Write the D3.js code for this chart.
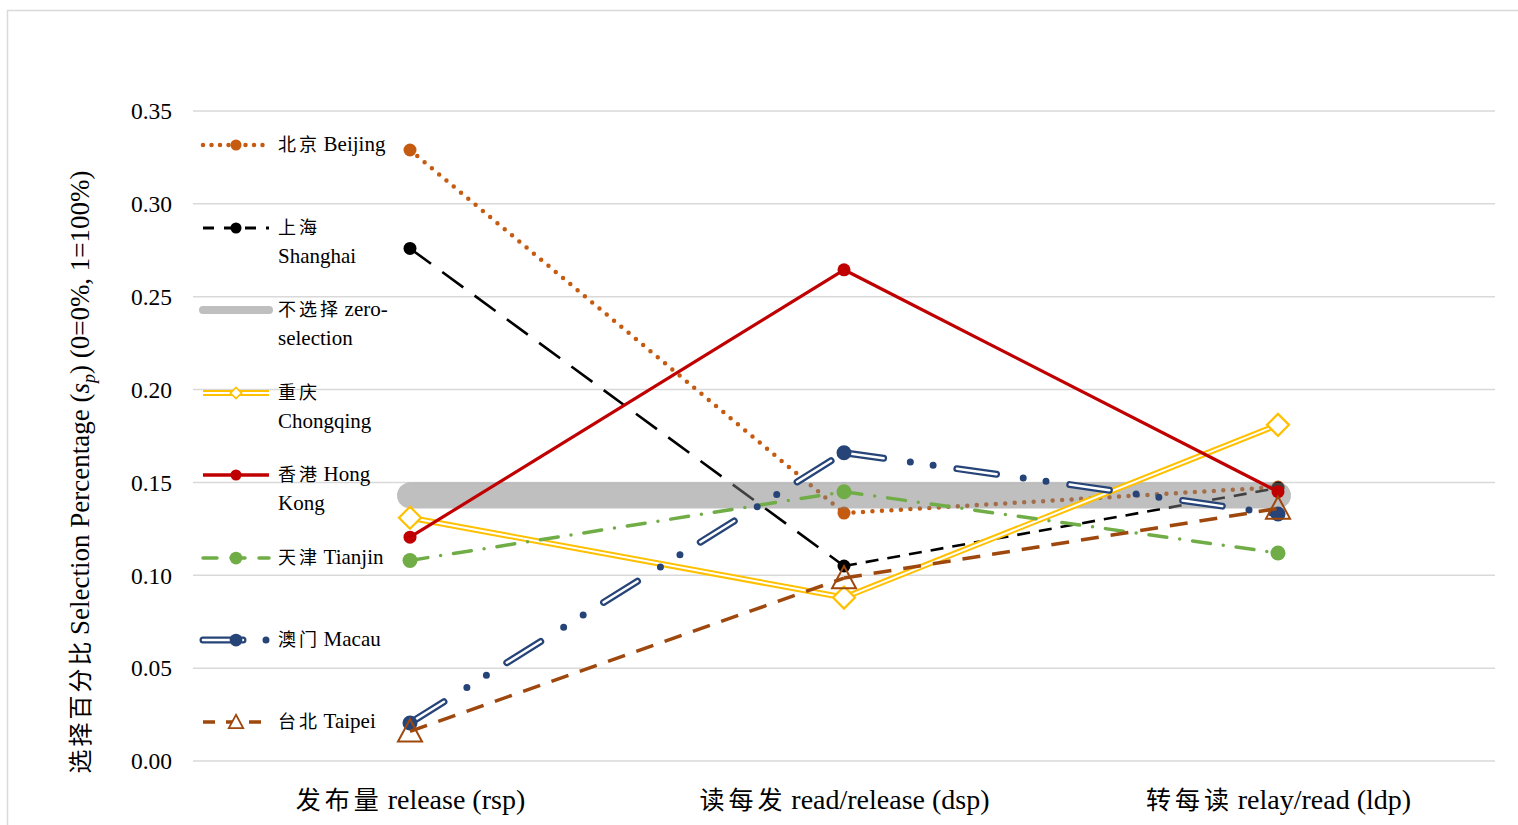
<!DOCTYPE html>
<html><head><meta charset="utf-8">
<script src="https://cdn.jsdelivr.net/npm/d3@7"></script>
<style>
body{margin:0;background:#fff;}
</style></head><body>
<svg id="c" width="1518" height="825"></svg>
<script>
const categories = ["发布量 release (rsp)", "读每发 read/release (dsp)", "转每读 relay/read (ldp)"];
const yTicks = [0, 0.05, 0.10, 0.15, 0.20, 0.25, 0.30, 0.35];
const seriesNames = ["北京 Beijing","上海 Shanghai","不选择 zero-selection","重庆 Chongqing","香港 Hong Kong","天津 Tianjin","澳门 Macau","台北 Taipei"];
const legendLines = [["北京 Beijing"],["上海","Shanghai"],["不选择 zero-","selection"],["重庆","Chongqing"],["香港 Hong","Kong"],["天津 Tianjin"],["澳门 Macau"],["台北 Taipei"]];
const beijing   = [0.329, 0.1335, 0.1475];
const shanghai  = [0.276, 0.105, 0.147];
const zeroSel   = [0.143, 0.143, 0.143];
const chongqing = [0.131, 0.088, 0.181];
const hongkong  = [0.1205, 0.2645, 0.145];
const tianjin   = [0.108, 0.145, 0.112];
const macau     = [0.0205, 0.166, 0.133];
const taipei    = [0.016, 0.0985, 0.136];
const values = [beijing, shanghai, zeroSel, chongqing, hongkong, tianjin, macau, taipei];

const SERIF = "'Liberation Serif','Times New Roman',serif";
const CJK = "'Noto Sans CJK SC','Noto Sans CJK TC',sans-serif";

// styles per series
const styles = [
  {color:"#C55A11", width:4.5, dash:["0 9.5","0 9.5"], cap:"round", marker:"circle", r:6.5},
  {color:"#000000", width:2.6, dash:["26 14","13 9"], cap:"butt", marker:"circle", r:6.5},
  {color:"#808080", width:26, dash:[null,null], cap:"round", marker:null, opacity:0.5},
  {color:"#FFC000", width:6, dash:[null,null], cap:"butt", marker:"diamond", r:11, dbl:2},
  {color:"#C00000", width:3.2, dash:[null,null], cap:"butt", marker:"circle", r:6.5},
  {color:"#70AD47", width:3.5, dash:["18 13 0 13","18 13 0 13"], cap:"round", marker:"circle", r:7.5},
  {color:"#264478", width:7, dash:["40 27 0 23 0 24","40 27 0 23 0 24"], cap:"round", marker:"circle", r:7.5, dbl:2.5, innerDash:"40 74"},
  {color:"#9E480E", width:3.5, dash:["18 12","18 12"], cap:"butt", marker:"triangle", r:12}
];
const legendStyles = [
  {dash:"0 8.5", width:4.5, color:"#C55A11", ms:0.85},
  {dash:"11 10", width:3, color:"#000", ms:0.85},
  {dash:null, width:8, color:"#BFBFBF"},
  {dash:null, width:6, color:"#FFC000", inner:[203,269], ms:0.5},
  {dash:null, width:3.5, color:"#C00000", ms:0.85},
  {dash:"14 14", width:3.5, color:"#70AD47", ms:0.85},
  {dash:"40 23 0 23", width:7, color:"#264478", inner:[203,243], ms:0.85},
  {dash:"12 11", width:3.5, color:"#9E480E", ms:0.6}
];

const svg = d3.select("#c");
svg.append("rect").attr("x",7.5).attr("y",10.5).attr("width",1530).attr("height",840)
  .attr("fill","none").attr("stroke","#D9D9D9").attr("stroke-width",1.5);

const x = d3.scalePoint().domain(categories).range([193,1495]).padding(0.5);
const y = d3.scaleLinear().domain([0,0.35]).range([761,111]);

// writes mixed CJK / Latin text into a text selection
function mixed(sel, str, cjkSize, latSize, spacing){
  const parts = str.match(/[\u3400-\u9fff]+|[^\u3400-\u9fff]+/g) || [];
  let prevC = false;
  parts.forEach(p=>{
    const isC = /[\u3400-\u9fff]/.test(p);
    let txt = p, dx = null;
    if(!isC && prevC && spacing && txt.startsWith(" ")){ txt = txt.slice(1); dx = spacing*1.2; }
    const t = sel.append("tspan").text(txt)
      .style("font-family", isC?CJK:SERIF).attr("font-size", isC?cjkSize:latSize);
    if(dx!==null) t.attr("dx", dx);
    if(isC && spacing) t.attr("letter-spacing", spacing);
    prevC = isC;
  });
}

// gridlines
svg.append("g").selectAll("line").data(yTicks).join("line")
  .attr("x1",193).attr("x2",1495).attr("y1",d=>y(d)).attr("y2",d=>y(d))
  .attr("stroke","#D9D9D9").attr("stroke-width",1.5);

// y tick labels
const yAxis = d3.axisLeft(y).tickValues(yTicks).tickFormat(d3.format(".2f")).tickSize(0).tickPadding(0);
const ya = svg.append("g").attr("transform","translate(172,0)").call(yAxis);
ya.select(".domain").remove();
ya.selectAll("text").style("font-family",SERIF).attr("font-size",23.5).attr("fill","#000").attr("dy","0.33em");

// x labels
const xAxis = d3.axisBottom(x).tickSize(0).tickPadding(0).tickFormat(()=> "");
const xa = svg.append("g").attr("transform","translate(0,809)").call(xAxis);
xa.select(".domain").remove();
xa.selectAll(".tick text").each(function(d){
  const t = d3.select(this).attr("dy",0).attr("fill","#000").attr("text-anchor","middle");
  mixed(t, d, 25, 28, 4);
});

// y title
const yt = svg.append("text").attr("transform","translate(89,472) rotate(-90)").attr("text-anchor","middle");
mixed(yt, "选择百分比 Selection Percentage (", 24, 27, 3);
yt.append("tspan").style("font-family",SERIF).attr("font-size",27).attr("font-style","italic").text("s");
yt.append("tspan").style("font-family",SERIF).attr("font-style","italic").attr("font-size",18).attr("dy",6).text("p");
yt.append("tspan").style("font-family",SERIF).attr("font-size",27).attr("dy",-6).text(") (0=0%, 1=100%)");

function drawMarker(g, type, cx, cy, st, scale){
  scale = scale||1;
  const r = st.r*scale;
  if(type==="circle"){
    g.append("circle").attr("cx",cx).attr("cy",cy).attr("r",r).attr("fill",st.color);
  } else if(type==="diamond"){
    const p = d3.path(); p.moveTo(cx,cy-r); p.lineTo(cx+r,cy); p.lineTo(cx,cy+r); p.lineTo(cx-r,cy); p.closePath();
    g.append("path").attr("d",p.toString()).attr("fill","#fff").attr("stroke",st.color).attr("stroke-width",2.2*Math.max(scale,0.8));
  } else if(type==="triangle"){
    const p = d3.path(); p.moveTo(cx,cy-r); p.lineTo(cx+r,cy+r*0.85); p.lineTo(cx-r,cy+r*0.85); p.closePath();
    g.append("path").attr("d",p.toString()).attr("fill","#fff").attr("stroke",st.color).attr("stroke-width",2*Math.max(scale,0.9));
  }
}

const plot = svg.append("g");
values.forEach((vals,si)=>{
  const st = styles[si];
  const g = plot.append("g").attr("opacity", st.opacity||1);
  const pts = vals.map((v,i)=>[x(categories[i]), y(v)]);
  for(let i=0;i<pts.length-1;i++){
    const ln = d3.line()([pts[i],pts[i+1]]);
    g.append("path").attr("d",ln).attr("fill","none").attr("stroke",st.color)
      .attr("stroke-width",st.width).attr("stroke-linecap",st.cap)
      .attr("stroke-dasharray",st.dash[i]);
    if(st.dbl){
      g.append("path").attr("d",ln).attr("fill","none").attr("stroke","#fff")
        .attr("stroke-width",st.dbl).attr("stroke-linecap",st.cap)
        .attr("stroke-dasharray",st.innerDash||null);
    }
  }
  if(st.marker){
    pts.forEach(p=>{
      if(st.marker==="triangle"){
        // hollow triangle, no fill in chart
        const r = st.r, cx=p[0], cy=p[1];
        const pp = d3.path(); pp.moveTo(cx,cy-r); pp.lineTo(cx+r,cy+r*0.85); pp.lineTo(cx-r,cy+r*0.85); pp.closePath();
        plot.append("path").attr("d",pp.toString()).attr("fill","none").attr("stroke",st.color).attr("stroke-width",2);
      } else drawMarker(plot, st.marker, p[0], p[1], st);
    });
  }
});

// legend
const legY = [145,228,310,393,475,558,640,722];
const leg = svg.append("g");
seriesNames.forEach((nm,si)=>{
  const st = styles[si], ls = legendStyles[si];
  const cy = legY[si];
  const g = leg.append("g");
  g.append("line").attr("x1",203).attr("x2",269).attr("y1",cy).attr("y2",cy)
    .attr("stroke",ls.color).attr("stroke-width",ls.width)
    .attr("stroke-linecap",st.cap).attr("stroke-dasharray",ls.dash);
  if(ls.inner){
    g.append("line").attr("x1",ls.inner[0]).attr("x2",ls.inner[1]).attr("y1",cy).attr("y2",cy)
      .attr("stroke","#fff").attr("stroke-width",st.dbl).attr("stroke-linecap",st.cap);
  }
  if(st.marker) drawMarker(g, st.marker, 236, cy, st, ls.ms);
  legendLines[si].forEach((t,li)=>{
    const tx = g.append("text").attr("x",278).attr("y",cy+li*29).attr("dy","0.35em").attr("fill","#000");
    mixed(tx, t, 18, 21, 3);
  });
});
</script>
</body></html>
